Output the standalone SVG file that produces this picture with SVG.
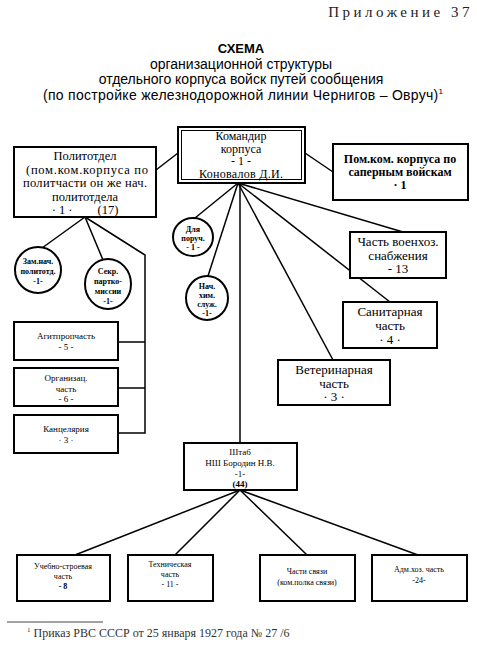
<svg xmlns="http://www.w3.org/2000/svg" width="477" height="645" viewBox="0 0 477 645">
<style>
.bg{fill:#fff}
.box{fill:#fff;stroke:#000;stroke-width:2}
.ell{fill:#fff;stroke:#000;stroke-width:2}
.ln{stroke:#000;stroke-width:1.5;fill:none}
.t{font-family:"Liberation Serif","Times New Roman",serif;fill:#000;text-anchor:middle}
.ser{font-family:"Liberation Serif","Times New Roman",serif}
.ti{font-family:"Liberation Sans",Arial,sans-serif;fill:#000;text-anchor:middle;font-size:14px}
.s13{font-size:13px}
.s12{font-size:12px}
.s9{font-size:9px}
.s8{font-size:8px}
.b{font-weight:bold}
</style>
<rect class="bg" x="0" y="0" width="477" height="645"/>
<g id="header">
<text class="ser" x="473" y="17" style="font-size:15px;letter-spacing:3.5px" text-anchor="end" fill="#222">Приложение 37</text>
<text class="ti b" x="241" y="53" style="font-size:13px">СХЕМА</text>
<text class="ti" x="241" y="68.5">организационной структуры</text>
<text class="ti" x="241" y="84">отдельного корпуса войск путей сообщения</text>
<text class="ti" x="243" y="99.5" textLength="400">(по постройке железнодорожной линии Чернигов – Овруч)<tspan style="font-size:8px" dy="-6">1</tspan></text>
</g>
<g id="connectors">
<line class="ln" x1="156" y1="170" x2="178" y2="153"/>
<line class="ln" x1="305" y1="153" x2="333" y2="172"/>
<line class="ln" x1="238" y1="183" x2="195" y2="218"/>
<line class="ln" x1="238" y1="183" x2="208" y2="276"/>
<line class="ln" x1="240" y1="183" x2="240" y2="443"/>
<line class="ln" x1="238" y1="183" x2="333" y2="360"/>
<line class="ln" x1="238" y1="183" x2="390" y2="302"/>
<line class="ln" x1="238" y1="183" x2="403" y2="232"/>
<line class="ln" x1="85" y1="217" x2="42" y2="248"/>
<line class="ln" x1="85" y1="217" x2="103" y2="260"/>
<polyline class="ln" points="85,217 145,255 145,433 118,433"/>
<line class="ln" x1="145" y1="342" x2="118" y2="342"/>
<line class="ln" x1="145" y1="388" x2="118" y2="388"/>
<line class="ln" x1="240" y1="490" x2="75" y2="555"/>
<line class="ln" x1="240" y1="490" x2="175" y2="555"/>
<line class="ln" x1="240" y1="490" x2="307" y2="555"/>
<line class="ln" x1="240" y1="490" x2="418" y2="555"/>
</g>
<g id="komandir">
<rect class="box" x="178" y="127" width="127" height="56" stroke-width="3"/>
<rect x="181.5" y="130.5" width="120" height="49" fill="none" stroke="#000" stroke-width="1"/>
<text class="t s12" x="241" y="140">Командир</text>
<text class="t s12" x="241" y="152.5">корпуса</text>
<text class="t s12" x="241" y="165">- 1 -</text>
<text class="t s12" x="241" y="177.5" textLength="84">Коновалов Д.И.</text>
</g>
<g id="politotdel">
<rect class="box" x="14" y="147" width="142" height="70"/>
<text class="t" style="font-size:12.5px" x="85" y="160">Политотдел</text>
<text class="t" style="font-size:12.5px" x="87" y="173.5" textLength="122">(пом.ком.корпуса по</text>
<text class="t" style="font-size:12.5px" x="85" y="187" textLength="124">политчасти он же нач.</text>
<text class="t" style="font-size:12.5px" x="85" y="200.5">политотдела</text>
<text class="t" style="font-size:12.5px" x="85" y="214" xml:space="preserve">· 1 ·        (17)</text>
</g>
<g id="pomkom">
<rect class="box" x="333" y="144" width="135" height="56"/>
<text class="t s12 b" x="400" y="163">Пом.ком. корпуса по</text>
<text class="t s12 b" x="400" y="176">саперным войскам</text>
<text class="t s12 b" x="400" y="189">· 1</text>
</g>
<g id="dlya">
<ellipse class="ell" cx="193" cy="237" rx="20" ry="19"/>
<text class="t s8 b" x="193" y="232">Для</text>
<text class="t s8 b" x="193" y="241">поруч.</text>
<text class="t s8 b" x="193" y="250">- 1 -</text>
</g>
<g id="nach">
<ellipse class="ell" cx="207" cy="298" rx="21" ry="22"/>
<text class="t s8 b" x="207" y="289">Нач.</text>
<text class="t s8 b" x="207" y="298">хим.</text>
<text class="t s8 b" x="207" y="307">служ.</text>
<text class="t s8 b" x="207" y="316">-1-</text>
</g>
<g id="zam">
<ellipse class="ell" cx="38" cy="270" rx="23" ry="23"/>
<text class="t s8 b" x="38" y="264">Зам.нач.</text>
<text class="t s8 b" x="38" y="274">политотд.</text>
<text class="t s8 b" x="38" y="284">-1-</text>
</g>
<g id="sekr">
<ellipse class="ell" cx="108" cy="284" rx="23" ry="25"/>
<text class="t s8 b" x="108" y="274">Секр.</text>
<text class="t s8 b" x="108" y="284">партко-</text>
<text class="t s8 b" x="108" y="294">миссии</text>
<text class="t s8 b" x="108" y="304">-1-</text>
</g>
<g id="voenhoz">
<rect class="box" x="350" y="232" width="96" height="46"/>
<text class="t s13" x="398" y="246">Часть военхоз.</text>
<text class="t s13" x="398" y="259.5">снабжения</text>
<text class="t s13" x="398" y="273">- 13</text>
</g>
<g id="sanit">
<rect class="box" x="343" y="302" width="94" height="46"/>
<text class="t s13" x="390" y="315.5">Санитарная</text>
<text class="t s13" x="390" y="329.5">часть</text>
<text class="t s13" x="390" y="343.5">· 4 ·</text>
</g>
<g id="veter">
<rect class="box" x="278" y="360" width="112" height="45"/>
<text class="t s13" x="334" y="374">Ветеринарная</text>
<text class="t s13" x="334" y="387.5">часть</text>
<text class="t s13" x="334" y="401">· 3 ·</text>
</g>
<g id="agit">
<rect class="box" x="14" y="322" width="104" height="38"/>
<text class="t s9" x="66" y="339">Агитпропчасть</text>
<text class="t s9" x="66" y="350">- 5 -</text>
</g>
<g id="organiz">
<rect class="box" x="14" y="368" width="104" height="38"/>
<text class="t s9" x="66" y="381">Организац.</text>
<text class="t s9" x="66" y="391.5">часть</text>
<text class="t s9" x="66" y="402">- 6 -</text>
</g>
<g id="kanc">
<rect class="box" x="14" y="415" width="104" height="38"/>
<text class="t s9" x="66" y="432">Канцелярия</text>
<text class="t s9" x="66" y="443">· 3 ·</text>
</g>
<g id="shtab">
<rect class="box" x="184" y="443" width="113" height="47"/>
<text class="t s9" x="240" y="455">Штаб</text>
<text class="t s9" x="240" y="466">НШ Бородин Н.В.</text>
<text class="t s9" x="240" y="476.5">-1-</text>
<text class="t s9 b" x="240" y="487">(44)</text>
</g>
<g id="uchebno">
<rect class="box" x="17" y="555" width="93" height="46"/>
<text class="t s8" x="63" y="569">Учебно-строевая</text>
<text class="t s8" x="63" y="579">часть</text>
<text class="t s8 b" x="63" y="589">- 8</text>
</g>
<g id="tehn">
<rect class="box" x="128" y="555" width="85" height="46"/>
<text class="t s8" x="170" y="567">Техническая</text>
<text class="t s8" x="170" y="577">часть</text>
<text class="t s8" x="170" y="587">- 11 -</text>
</g>
<g id="svyaz">
<rect class="box" x="260" y="555" width="95" height="46"/>
<text class="t s8" x="307" y="574">Части связи</text>
<text class="t s8" x="307" y="585">(ком.полка связи)</text>
</g>
<g id="admhoz">
<rect class="box" x="372" y="555" width="95" height="46"/>
<text class="t s8" x="419" y="572">Адм.хоз. часть</text>
<text class="t s8" x="419" y="583">-24-</text>
</g>
<g id="footnote">
<line x1="7" y1="622" x2="103" y2="622" stroke="#444" stroke-width="1"/>
<text class="ser" x="27" y="637" style="font-size:12px" fill="#333"><tspan style="font-size:7px" dy="-5">1</tspan><tspan dy="5"> Приказ РВС СССР от 25 января 1927 года № 27 /6</tspan></text>
</g>
</svg>
